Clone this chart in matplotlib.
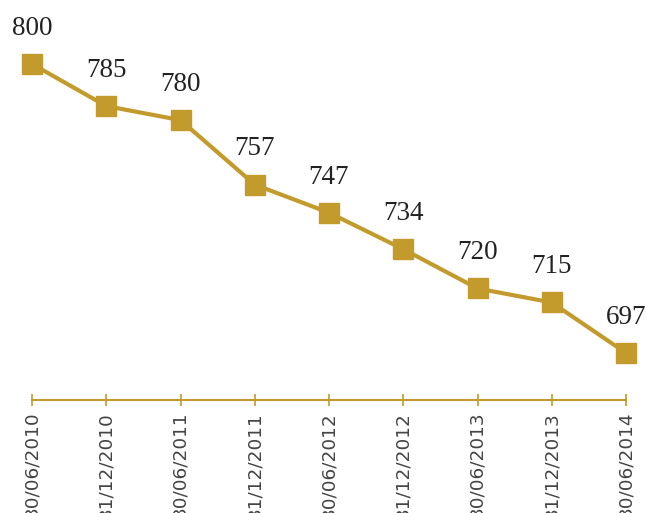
import matplotlib
matplotlib.use("Agg")
import matplotlib.pyplot as plt

dates = ["30/06/2010", "31/12/2010", "30/06/2011", "31/12/2011", "30/06/2012",
         "31/12/2012", "30/06/2013", "31/12/2013", "30/06/2014"]
values = [800, 785, 780, 757, 747, 734, 720, 715, 697]

GOLD = "#C29B2C"
W, H = 646, 513
fig = plt.figure(figsize=(W / 100, H / 100), dpi=100)
left, right = 32 / W, 626 / W
bottom = 1 - 400 / H
ax = fig.add_axes([left, bottom, right - left, 1 - bottom])

x = list(range(len(values)))
ax.plot(x, values, color=GOLD, lw=3, marker="s", ms=14.5, mec=GOLD, mfc=GOLD,
        clip_on=False, zorder=3)
for xi, v in zip(x, values):
    ax.annotate(str(v), (xi, v), xytext=(0, 21), textcoords="offset points",
                ha="center", va="baseline", fontsize=19.5, family="Liberation Serif",
                color="#222222")

ax.set_xlim(0, 8)
ax.set_ylim(680.25, 822.8)
ax.set_xticks(x)
ax.set_xticklabels(dates, rotation=90, fontsize=13.3, family="DejaVu Sans",
                   color="#444444", va="top", ha="center")
ax.set_yticks([])
for s in ["top", "right", "left"]:
    ax.spines[s].set_visible(False)
ax.spines["bottom"].set_color(GOLD)
ax.spines["bottom"].set_linewidth(1.5)
ax.tick_params(axis="x", direction="inout", length=9, width=1.2, color=GOLD, pad=4)
ax.patch.set_alpha(0)

fig.savefig("out.png", dpi=100)
